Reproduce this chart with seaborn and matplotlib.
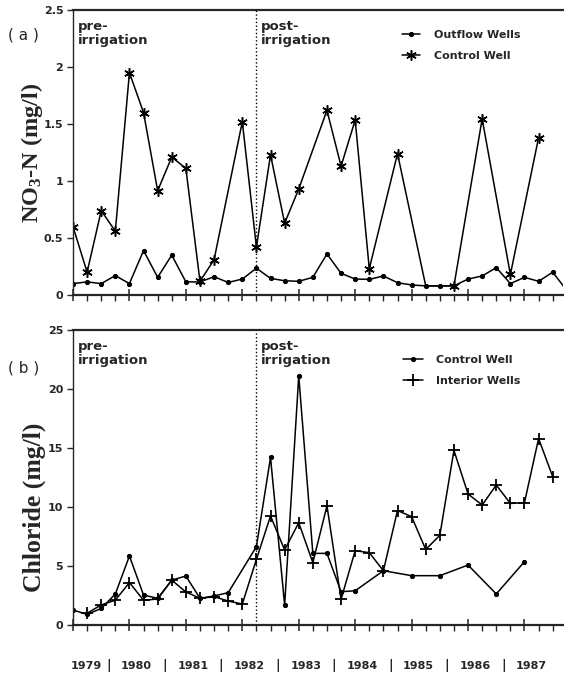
import numpy as np
import pandas as pd
import matplotlib
matplotlib.use("Agg")
import matplotlib.pyplot as plt
import seaborn as sns

# ---- data (x = sample number, quarterly, 0 = first 1979 sample) ----
outflow_x = list(range(0, 36))
outflow_no3 = [0.10, 0.115, 0.10, 0.17, 0.10, 0.39, 0.155, 0.35, 0.115, 0.115,
               0.16, 0.11, 0.14, 0.235, 0.146, 0.125, 0.12, 0.155, 0.36, 0.19,
               0.14, 0.137, 0.167, 0.108, 0.088, 0.08, 0.08, 0.08, 0.14, 0.167,
               0.24, 0.10, 0.155, 0.12, 0.20, 0.04]

control_no3_x = [0, 1, 2, 3, 4, 5, 6, 7, 8, 9, 10, 12, 13, 14, 15, 16, 18, 19,
                 20, 21, 23, 25, 26, 27, 29, 31, 33]
control_no3 = [0.6, 0.2, 0.74, 0.56, 1.95, 1.6, 0.915, 1.21, 1.11, 0.12, 0.31,
               1.52, 0.42, 1.23, 0.63, 0.93, 1.62, 1.13, 1.535, 0.23, 1.24,
               0.08, 0.08, 0.08, 1.545, 0.18, 1.38]
control_no3_star = [i for i, x in enumerate(control_no3_x) if x not in (25, 26)]

control_cl_x = [0, 1, 2, 3, 4, 5, 6, 7, 8, 9, 10, 11, 13, 14, 15, 16, 17, 18,
                19, 20, 22, 24, 26, 28, 30, 32]
control_cl = [1.27, 0.9, 1.4, 2.63, 5.85, 2.54, 2.26, 3.8, 4.15, 2.26, 2.46,
              2.74, 6.64, 14.2, 1.7, 21.1, 6.07, 6.07, 2.82, 2.9, 4.6, 4.18,
              4.18, 5.08, 2.63, 5.37]

interior_cl_x = list(range(1, 35))
interior_cl = [1.0, 1.7, 2.1, 3.6, 2.1, 2.2, 3.8, 2.8, 2.26, 2.4, 2.03, 1.78,
               5.56, 9.24, 6.36, 8.67, 5.28, 10.1, 2.18, 6.3, 6.13, 4.6, 9.7,
               9.18, 6.4, 7.6, 14.8, 11.1, 10.17, 11.86, 10.3, 10.37, 15.8,
               12.57]

years = ["1979", "1980", "1981", "1982", "1983", "1984", "1985", "1986", "1987"]
no3_ticks = [0, 0.5, 1, 1.5, 2, 2.5]
no3_labels = ["0", "0.5", "1", "1.5", "2", "2.5"]
cl_ticks = [0, 5, 10, 15, 20, 25]
cl_labels = ["0", "5", "10", "15", "20", "25"]
irrigation_start = 13

sns.set_style("ticks")
plt.rcParams['font.family'] = ['DejaVu Sans']
plt.rcParams['mathtext.fontset'] = 'custom'
plt.rcParams['mathtext.rm'] = 'Liberation Serif:bold'
plt.rcParams['mathtext.bf'] = 'Liberation Serif:bold'
plt.rcParams['mathtext.it'] = 'Liberation Serif:bold:italic'

W, H = 564, 677
fig = plt.figure(figsize=(W / 100, H / 100), dpi=100)
ax1 = fig.add_axes([73 / W, 1 - 295 / H, 490 / W, 285 / H])
ax2 = fig.add_axes([73 / W, 1 - 625 / H, 490 / W, 295 / H])

star = (6, 2, 0)
common = dict(color="black", linewidth=1.1, estimator=None, sort=False,
              markeredgecolor="black", markerfacecolor="black")

sns.lineplot(x=outflow_x, y=outflow_no3, ax=ax1, marker="o", markersize=3,
             label="Outflow Wells", **common)
sns.lineplot(x=control_no3_x, y=control_no3, ax=ax1, marker=star, markersize=7.5,
             markeredgewidth=1.1, markevery=control_no3_star,
             label="Control Well", **common)

sns.lineplot(x=control_cl_x, y=control_cl, ax=ax2, marker="o", markersize=3,
             label="Control Well", **common)
sns.lineplot(x=interior_cl_x, y=interior_cl, ax=ax2, marker="+", markersize=9,
             markeredgewidth=1.3, label="Interior Wells", **common)


def style_axes(ax, ticks, labels, top):
    ax.set_xlim(0, 34.73)
    ax.set_ylim(0, top)
    ax.set_yticks(ticks, labels=labels)
    ax.set_xticks(range(0, 35, 4))
    ax.set_xticks(range(0, 35), minor=True)
    ax.set_xticklabels([])
    ax.tick_params(axis="x", which="major", direction="inout", length=8, width=1.1)
    ax.tick_params(axis="x", which="minor", direction="out", length=4, width=1.0)
    ax.tick_params(axis="y", direction="out", length=4, width=1.0, pad=3,
                   labelsize=8)
    for t in ax.get_yticklabels():
        t.set_fontweight("bold")
    ax.spines["right"].set_visible(False)
    ax.spines["top"].set_linewidth(1.6)
    ax.spines["bottom"].set_linewidth(1.6)
    ax.spines["left"].set_linewidth(1.0)
    ax.axvline(irrigation_start, color="black", linestyle=":", linewidth=1.0)
    ax.set_xlabel("")
    ax.set_ylabel("")
    ax.text(0.01, 0.965, "pre-\nirrigation", transform=ax.transAxes,
            fontsize=9.5, fontweight="bold", va="top", ha="left", linespacing=1.1)
    ax.text((irrigation_start + 0.35) / 34.73, 0.965, "post-\nirrigation",
            transform=ax.transAxes, fontsize=9.5, fontweight="bold", va="top",
            ha="left", linespacing=1.1)


style_axes(ax1, no3_ticks, no3_labels, 2.5)
style_axes(ax2, cl_ticks, cl_labels, 25)

ax1.legend(loc="upper left", bbox_to_anchor=(0.671, 0.93), frameon=False,
           borderpad=0, borderaxespad=0, handlelength=1.6, handletextpad=1.3,
           labelspacing=0.95, prop={"weight": "bold", "size": 8})
ax2.legend(loc="upper left", bbox_to_anchor=(0.673, 0.915), frameon=False,
           borderpad=0, borderaxespad=0, handlelength=1.8, handletextpad=1.2,
           labelspacing=0.95, prop={"weight": "bold", "size": 8})

fig.text(8 / W, 1 - 35 / H, "( a )", fontsize=11, va="center", ha="left")
fig.text(8 / W, 1 - 368 / H, "( b )", fontsize=11, va="center", ha="left")

fig.text(32 / W, 1 - 153 / H, r"NO$_3$-N (mg/l)", rotation=90, fontsize=17.5,
         fontfamily="Liberation Serif", fontweight="bold", va="center", ha="center")
fig.text(34 / W, 1 - 507 / H, "Chloride (mg/l)", rotation=90, fontsize=18.5,
         fontfamily="Liberation Serif", fontweight="bold", va="center", ha="center")

# year labels under the lower panel, separated by bars
year_x = [0.95] + [4 * k + 0.5 for k in range(1, len(years))]
sep_x = [4 * k + 2.5 for k in range(len(years) - 1)]
trans = ax2.get_xaxis_transform()
for x, yr in zip(year_x, years):
    ax2.text(x, -41 / 295, yr, transform=trans, ha="center", va="center",
             fontsize=8, fontweight="bold", clip_on=False)
for x in sep_x:
    ax2.text(x, -41 / 295, "|", transform=trans, ha="center", va="center",
             fontsize=9, fontweight="bold", clip_on=False)

plt.savefig("out.png", dpi=100)
